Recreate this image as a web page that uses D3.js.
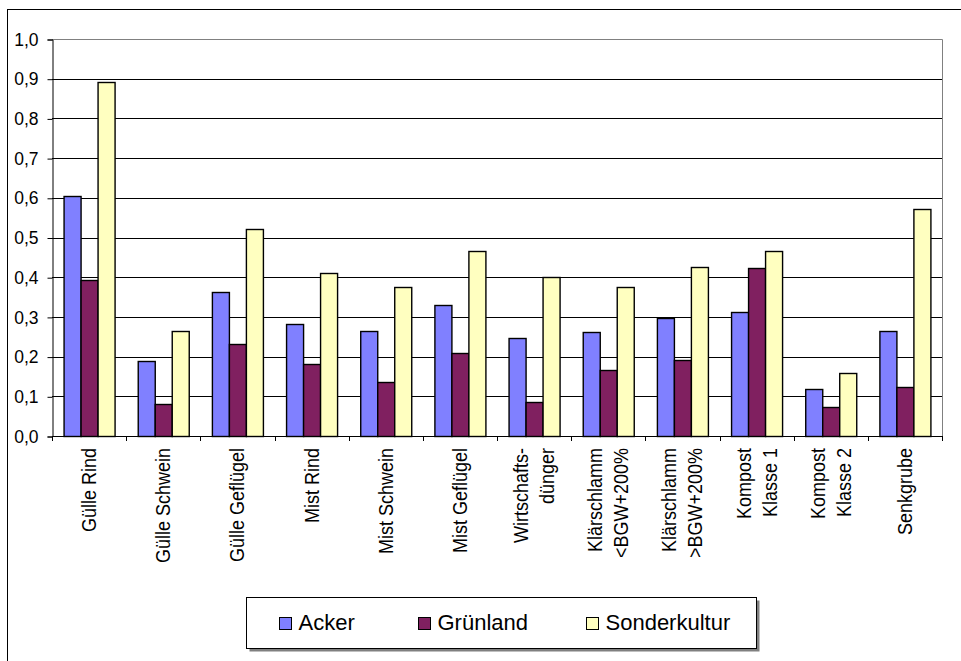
<!DOCTYPE html>
<html>
<head>
<meta charset="utf-8">
<script src="https://cdn.jsdelivr.net/npm/d3@7"></script>
<style>
  body { margin: 0; background: #fff; }
  svg { display: block; font-family: "Liberation Sans", Arial, sans-serif; }
</style>
</head>
<body>
<div id="chart"></div>
<script>
// Chart data
const categories = [
    ["Gülle Rind"], ["Gülle Schwein"], ["Gülle Geflügel"], ["Mist Rind"],
    ["Mist Schwein"], ["Mist Geflügel"], ["Wirtschafts-", "dünger"],
    ["Klärschlamm", "<BGW+200%"], ["Klärschlamm", ">BGW+200%"],
    ["Kompost", "Klasse 1"], ["Kompost", "Klasse 2"], ["Senkgrube"]
];
const seriesNames = ["Acker", "Grünland", "Sonderkultur"];
const acker = [0.605, 0.188, 0.362, 0.282, 0.264, 0.329, 0.248, 0.261, 0.298, 0.312, 0.119, 0.264];
const gruenland = [0.392, 0.081, 0.231, 0.182, 0.136, 0.210, 0.085, 0.166, 0.192, 0.423, 0.072, 0.124];
const sonderkultur = [0.892, 0.264, 0.521, 0.410, 0.376, 0.466, 0.401, 0.376, 0.426, 0.465, 0.158, 0.572];
const yTicks = [0, 0.1, 0.2, 0.3, 0.4, 0.5, 0.6, 0.7, 0.8, 0.9, 1.0];
const colors = ["#8080FF", "#802060", "#FFFFC0"];

const width = 961, height = 661;
const plot = { left: 52, right: 942, top: 39, bottom: 436 };

const svg = d3.select("#chart").append("svg")
    .attr("width", width)
    .attr("height", height);

// Outer frame (runs off the right and bottom edges)
svg.append("rect")
    .attr("x", 7.5).attr("y", 9.5)
    .attr("width", 1000).attr("height", 1000)
    .attr("fill", "none").attr("stroke", "#000");

const x0 = d3.scaleBand()
    .domain(d3.range(categories.length))
    .range([plot.left, plot.right]);

const groupWidth = x0.bandwidth() * 3 / 4.36;
const x1 = d3.scaleBand()
    .domain(seriesNames)
    .range([0, groupWidth]);

const y = d3.scaleLinear().domain([0, 1]).range([plot.bottom, plot.top]);

// Gridlines
svg.append("g").selectAll("line")
    .data(yTicks.slice(1, -1))
    .join("line")
    .attr("x1", plot.left).attr("x2", plot.right)
    .attr("y1", d => Math.round(y(d)) + 0.5)
    .attr("y2", d => Math.round(y(d)) + 0.5)
    .attr("stroke", "#000");

// Plot area border top/right (gray)
svg.append("path")
    .attr("d", `M${plot.left},${plot.top + 0.5}H${plot.right + 0.5}V${plot.bottom}`)
    .attr("fill", "none")
    .attr("stroke", "#808080");

// Bars
const rows = categories.map((c, i) => [acker[i], gruenland[i], sonderkultur[i]]);
const groups = svg.append("g").selectAll("g")
    .data(rows)
    .join("g")
    .attr("transform", (d, i) => `translate(${x0(i) + (x0.bandwidth() - groupWidth) / 2},0)`);

groups.selectAll("rect")
    .data(d => d.map((v, k) => ({ key: seriesNames[k], value: v, k })))
    .join("rect")
    .attr("x", d => Math.round(x1(d.key)) + 0.5)
    .attr("y", d => Math.round(y(d.value)) + 0.5)
    .attr("width", x1.bandwidth())
    .attr("height", d => plot.bottom - Math.round(y(d.value)))
    .attr("fill", d => colors[d.k])
    .attr("stroke", "#000")
    .attr("stroke-width", 1.4);

// Y axis
const yAxis = svg.append("g")
    .attr("transform", `translate(${plot.left + 0.5},0.5)`)
    .call(d3.axisLeft(y).tickValues(yTicks).tickSize(5).tickPadding(9)
        .tickFormat(d => d3.format(".1f")(d).replace(".", ",")));
yAxis.selectAll("text").attr("font-size", 17.5).attr("fill", "#000")
    .attr("font-family", "Liberation Sans, Arial, sans-serif");
yAxis.selectAll("line").attr("stroke", "#000");
yAxis.select(".domain").attr("stroke", "#000");

// X axis line and ticks between categories
svg.append("line")
    .attr("x1", plot.left).attr("x2", plot.right + 1)
    .attr("y1", plot.bottom + 0.5).attr("y2", plot.bottom + 0.5)
    .attr("stroke", "#000");
svg.append("g").selectAll("line")
    .data(d3.range(categories.length + 1))
    .join("line")
    .attr("x1", i => Math.round(plot.left + i * x0.bandwidth()) + 0.5)
    .attr("x2", i => Math.round(plot.left + i * x0.bandwidth()) + 0.5)
    .attr("y1", plot.bottom).attr("y2", plot.bottom + 5)
    .attr("stroke", "#000");

// Rotated category labels (glyphs slightly stretched like the original)
const labelStretch = 1.12;
const lineGap = 26 / labelStretch;
const labels = svg.append("g").selectAll("text")
    .data(categories)
    .join("text")
    .attr("transform", (d, i) =>
        `translate(${x0(i) + x0.bandwidth() / 2},448) rotate(-90) scale(1,${labelStretch})`)
    .attr("text-anchor", "end")
    .attr("font-size", 18)
    .attr("fill", "#000");
labels.selectAll("tspan")
    .data(d => d.map((t, j) => ({ t, j, n: d.length })))
    .join("tspan")
    .attr("x", 0)
    .attr("y", d => 6.3 / labelStretch * labelStretch + (d.j - (d.n - 1) / 2) * lineGap)
    .text(d => d.t);

// Legend
const legend = svg.append("g");
legend.append("rect")
    .attr("x", 249.5).attr("y", 600.5)
    .attr("width", 510).attr("height", 51)
    .attr("fill", "#808080");
legend.append("rect")
    .attr("x", 246.5).attr("y", 597.5)
    .attr("width", 510).attr("height", 51)
    .attr("fill", "#fff").attr("stroke", "#000");

const legendX = [279.5, 418.5, 586.5];
const items = legend.selectAll("g.item")
    .data(seriesNames)
    .join("g")
    .attr("class", "item")
    .attr("transform", (d, i) => `translate(${legendX[i]},617.5)`);
items.append("rect")
    .attr("width", 12).attr("height", 12)
    .attr("fill", (d, i) => colors[i])
    .attr("stroke", "#000");
items.append("text")
    .attr("x", 19).attr("y", 12.5)
    .attr("font-size", 22)
    .attr("fill", "#000")
    .text(d => d);
</script>
</body>
</html>
